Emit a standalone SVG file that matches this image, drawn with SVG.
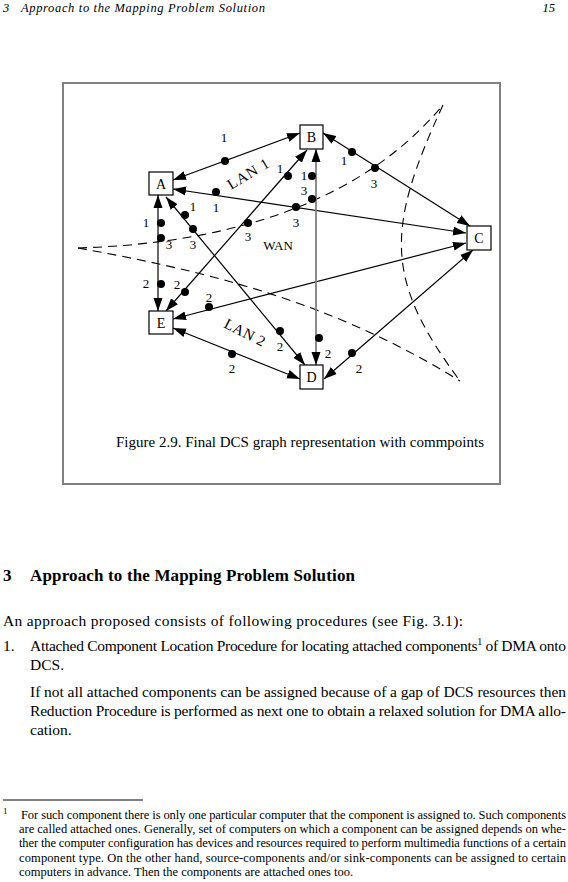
<svg xmlns="http://www.w3.org/2000/svg" width="568" height="882" viewBox="0 0 568 882">
<defs>
<marker id="ah" viewBox="-13 -5 13 10" refX="0" refY="0" markerWidth="13" markerHeight="10" markerUnits="userSpaceOnUse" orient="auto-start-reverse">
<path d="M0,0 L-13,-4.5 L-13,4.5 z" fill="#000"/>
</marker>
<style>
.t{font-family:"Liberation Serif","Times New Roman",serif;fill:#000}
.lbl{font-family:"Liberation Serif","Times New Roman",serif;font-size:13px;fill:#000;text-anchor:middle}
.nd{fill:#fff;stroke:#000;stroke-width:1.2}
.ndt{font-family:"Liberation Serif","Times New Roman",serif;font-size:14px;fill:#000;text-anchor:middle}
.e{stroke:#000;stroke-width:1.2;fill:none;marker-start:url(#ah);marker-end:url(#ah)}
.eg{stroke:#808080;stroke-width:1.8;fill:none;marker-start:url(#ah);marker-end:url(#ah)}
.d{stroke:#000;stroke-width:1.1;fill:none;stroke-dasharray:9 6}
.cp{fill:#000}
</style>
</defs>
<rect width="568" height="882" fill="#fff"/>

<!-- running header -->
<text class="t" x="3" y="12" font-size="12.5" font-style="italic">3</text>
<text class="t" x="21" y="12" font-size="12.5" font-style="italic" textLength="244" lengthAdjust="spacing">Approach to the Mapping Problem Solution</text>
<text class="t" x="555" y="12" font-size="12.5" font-style="italic" text-anchor="end">15</text>

<!-- figure frame -->
<rect x="63" y="83" width="437" height="401" fill="none" stroke="#808080" stroke-width="2"/>

<!-- boundaries -->
<g id="boundaries">
<path class="d" d="M78,248 Q330,240 443,105"/>
<path class="d" d="M78,248 C200,270 330,300 460,381"/>
<path class="d" d="M443,105 C385,230 385,280 460,381"/>
</g>

<g id="connectors">
<line class="e" x1="173" y1="180" x2="300" y2="133"/>
<line class="e" x1="173" y1="189" x2="466" y2="233"/>
<line class="e" x1="166" y1="197" x2="305" y2="365"/>
<line class="e" x1="166" y1="311" x2="307" y2="150"/>
<line class="e" x1="158" y1="195" x2="158" y2="311"/>
<line class="e" x1="173" y1="319" x2="466" y2="243"/>
<line class="e" x1="173" y1="328" x2="300" y2="379"/>
<line class="eg" x1="316" y1="149" x2="316" y2="365"/>
<line class="e" x1="323" y1="133" x2="470" y2="226"/>
<line class="e" x1="473" y1="250" x2="324" y2="379"/>
</g>

<g id="commpoints">
<circle class="cp" cx="225" cy="161" r="4"/>
<circle class="cp" cx="216" cy="192" r="4"/>
<circle class="cp" cx="185" cy="215" r="4"/>
<circle class="cp" cx="193" cy="229" r="4"/>
<circle class="cp" cx="161" cy="223" r="4"/>
<circle class="cp" cx="161" cy="238" r="4"/>
<circle class="cp" cx="248" cy="223" r="4"/>
<circle class="cp" cx="288" cy="176" r="4"/>
<circle class="cp" cx="312" cy="176" r="4"/>
<circle class="cp" cx="312" cy="199" r="4"/>
<circle class="cp" cx="296" cy="207" r="4"/>
<circle class="cp" cx="352" cy="152" r="4"/>
<circle class="cp" cx="375" cy="168" r="4"/>
<circle class="cp" cx="161" cy="284" r="4"/>
<circle class="cp" cx="185" cy="292" r="4"/>
<circle class="cp" cx="209" cy="307" r="4"/>
<circle class="cp" cx="232" cy="354" r="4"/>
<circle class="cp" cx="280" cy="331" r="4"/>
<circle class="cp" cx="319" cy="338" r="4"/>
<circle class="cp" cx="352" cy="353" r="4"/>
</g>

<g id="labels">
<text class="lbl" x="224" y="142">1</text>
<text class="lbl" x="193" y="211">1</text>
<text class="lbl" x="216" y="212">1</text>
<text class="lbl" x="193" y="249">3</text>
<text class="lbl" x="146" y="227">1</text>
<text class="lbl" x="169" y="249">3</text>
<text class="lbl" x="248" y="241">3</text>
<text class="lbl" x="280" y="173">1</text>
<text class="lbl" x="304" y="180">1</text>
<text class="lbl" x="304" y="195">3</text>
<text class="lbl" x="296" y="227">3</text>
<text class="lbl" x="344" y="165">1</text>
<text class="lbl" x="374" y="188">3</text>
<text class="lbl" x="146" y="288">2</text>
<text class="lbl" x="177" y="289">2</text>
<text class="lbl" x="209" y="302">2</text>
<text class="lbl" x="232" y="373">2</text>
<text class="lbl" x="280" y="351">2</text>
<text class="lbl" x="328" y="358">2</text>
<text class="lbl" x="359" y="373">2</text>
<text class="lbl" x="278" y="250">WAN</text>
<text class="t" x="0" y="0" font-size="15" textLength="46" lengthAdjust="spacing" transform="translate(231,190) rotate(-31)">LAN 1</text>
<text class="t" x="0" y="0" font-size="15" textLength="44" lengthAdjust="spacing" transform="translate(223,327) rotate(27)">LAN 2</text>
</g>

<g id="A"><rect class="nd" x="149" y="172" width="24" height="23"/><text class="ndt" x="161" y="189">A</text></g>
<g id="B"><rect class="nd" x="300" y="125" width="23" height="24"/><text class="ndt" x="311.5" y="142">B</text></g>
<g id="C"><rect class="nd" x="467" y="226" width="24" height="24"/><text class="ndt" x="479" y="243">C</text></g>
<g id="D"><rect class="nd" x="300" y="365" width="23" height="24"/><text class="ndt" x="311.5" y="382">D</text></g>
<g id="E"><rect class="nd" x="149" y="311" width="24" height="23"/><text class="ndt" x="161" y="328">E</text></g>

<text class="t" x="116" y="447" font-size="15" textLength="368" lengthAdjust="spacing">Figure 2.9. Final DCS graph representation with commpoints</text>

<!-- body -->
<text class="t" x="3" y="581" font-size="17" font-weight="bold">3</text>
<text class="t" x="30" y="581" font-size="17" font-weight="bold" textLength="325" lengthAdjust="spacing">Approach to the Mapping Problem Solution</text>

<text class="t" x="3" y="626" font-size="15.5" textLength="460" lengthAdjust="spacing">An approach proposed consists of following procedures (see Fig. 3.1):</text>
<text class="t" x="3" y="651" font-size="15.5">1.</text>
<text class="t" x="30" y="651" font-size="15.5" textLength="536" lengthAdjust="spacing">Attached Component Location Procedure for locating attached components<tspan dy="-6" font-size="10">1</tspan><tspan dy="6"> of DMA onto</tspan></text>
<text class="t" x="30" y="670" font-size="15.5">DCS.</text>
<text class="t" x="30" y="697" font-size="15.5" textLength="536" lengthAdjust="spacing">If not all attached components can be assigned because of a gap of DCS resources then</text>
<text class="t" x="30" y="716" font-size="15.5" textLength="536" lengthAdjust="spacing">Reduction Procedure is performed as next one to obtain a relaxed solution for DMA allo-</text>
<text class="t" x="30" y="735" font-size="15.5">cation.</text>

<!-- footnote -->
<line x1="3" y1="800" x2="143" y2="800" stroke="#000" stroke-width="1"/>
<text class="t" x="3" y="814" font-size="9">1</text>
<text class="t" x="21" y="819" font-size="12.5" textLength="545" lengthAdjust="spacing">For such component there is only one particular computer that the component  is assigned to. Such components</text>
<text class="t" x="19" y="833" font-size="12.5" textLength="547" lengthAdjust="spacing">are called attached ones. Generally, set of computers on which a component  can be assigned depends on whe-</text>
<text class="t" x="19" y="847" font-size="12.5" textLength="547" lengthAdjust="spacing">ther the computer configuration has devices and resources required to perform multimedia functions of a certain</text>
<text class="t" x="19" y="862" font-size="12.5" textLength="547" lengthAdjust="spacing">component type. On the other hand, source-components and/or sink-components can be assigned to certain</text>
<text class="t" x="19" y="876" font-size="12.5">computers in advance. Then the components are attached ones too.</text>
</svg>
